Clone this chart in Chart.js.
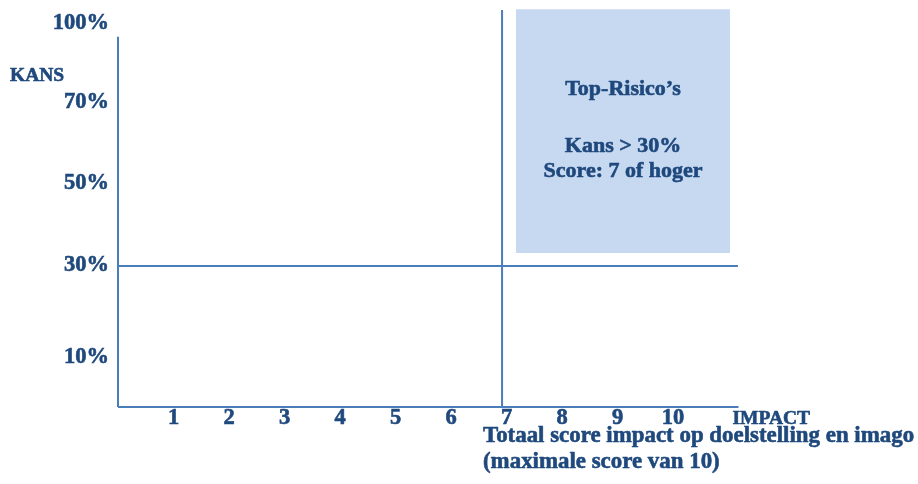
<!DOCTYPE html>
<html>
<head>
<meta charset="utf-8">
<script src="https://cdn.jsdelivr.net/npm/chart.js@4.4.1/dist/chart.umd.min.js"></script>
<style>
  html, body { margin: 0; padding: 0; background: #ffffff; }
  #wrap { width: 918px; height: 484px; position: relative; }
</style>
</head>
<body>
<div id="wrap"><canvas id="c" width="918" height="484"></canvas></div>
<script>
// ---- data ----
const xTickValues = [1, 2, 3, 4, 5, 6, 7, 8, 9, 10];
const xTickLabels = ['1', '2', '3', '4', '5', '6', '7', '8', '9', '10'];
const yTickLevels = [0.615, 1.755, 2.765, 3.765, 4.735];
const yTickLabels = ['10%', '30%', '50%', '70%', '100%'];
const axisXLine = [{x: 0, y: 0}, {x: 11.18, y: 0}];
const axisYLine = [{x: 0, y: 0}, {x: 0, y: 4.57}];
const kansThresholdLine = [{x: 0, y: 1.74}, {x: 11.17, y: 1.74}];
const impactThresholdLine = [{x: 6.92, y: 0}, {x: 6.92, y: 4.9}];
const boxXRange = [7.17, 11.03];
const boxYRange = [1.90, 4.91];
const boxTexts = ['Top-Risico\u2019s', 'Kans > 30%', 'Score: 7 of hoger'];
const yAxisTitle = 'KANS';
const xAxisTitle = 'IMPACT';
const xAxisSubtitle = ['Totaal score impact op doelstelling en imago', '(maximale score van 10)'];

// ---- styles ----
const TEXT = '#1F497D';
const LINE = '#4A7EBB';
const BOX = '#C6D9F1';
const FAMILY = '"Liberation Serif", "DejaVu Serif", serif';
const STROKE = 0.6;

const textPlugin = {
  id: 'texts',
  afterDraw(chart) {
    const ctx = chart.ctx;
    const xs = chart.scales.x, ys = chart.scales.y;
    ctx.save();
    ctx.fillStyle = TEXT;
    ctx.strokeStyle = TEXT;
    ctx.lineWidth = STROKE;
    ctx.lineJoin = 'round';
    ctx.textBaseline = 'alphabetic';
    const put = (t, x, y) => { ctx.fillText(t, x, y); ctx.strokeText(t, x, y); };
    // box texts
    const bx = (xs.getPixelForValue(boxXRange[0]) + xs.getPixelForValue(boxXRange[1])) / 2;
    const btop = ys.getPixelForValue(boxYRange[1]);
    ctx.textAlign = 'center';
    ctx.font = 'bold 22px ' + FAMILY;
    const offs = [86, 143, 168];
    boxTexts.forEach((t, i) => put(t, bx, btop + offs[i]));
    // KANS
    ctx.textAlign = 'left';
    ctx.font = 'bold 19.5px ' + FAMILY;
    put(yAxisTitle, 10, 81);
    // IMPACT
    put(xAxisTitle, xs.getPixelForValue(axisXLine[1].x) - 6, 424);
    // subtitle
    ctx.font = 'bold 22.9px ' + FAMILY;
    put(xAxisSubtitle[0], 483, 442);
    put(xAxisSubtitle[1], 483, 468);
    ctx.restore();
  }
};

const lineDs = (data) => ({
  data, borderColor: LINE, borderWidth: 2, pointRadius: 0, fill: false,
  tension: 0, clip: false
});

new Chart(document.getElementById('c'), {
  type: 'line',
  data: {
    datasets: [
      {
        data: [{x: boxXRange[0], y: boxYRange[1]}, {x: boxXRange[1], y: boxYRange[1]}],
        borderWidth: 0, borderColor: 'rgba(0,0,0,0)', pointRadius: 0,
        backgroundColor: BOX, fill: {value: boxYRange[0]}, clip: false
      },
      lineDs(axisXLine),
      lineDs(axisYLine),
      lineDs(kansThresholdLine),
      lineDs(impactThresholdLine)
    ]
  },
  options: {
    responsive: false,
    animation: false,
    events: [],
    layout: { padding: { left: 0, top: 2, right: 134, bottom: 0 } },
    plugins: { legend: { display: false }, tooltip: { enabled: false } },
    scales: {
      x: {
        type: 'linear', min: 0, max: 12,
        grid: { display: false, drawTicks: false }, border: { display: false },
        afterBuildTicks: (s) => { s.ticks = xTickValues.map(v => ({ value: v })); },
        afterFit: (s) => { s.height = 77; s.paddingLeft = 0; s.paddingRight = 0; },
        ticks: {
          autoSkip: false, maxRotation: 0, padding: 0,
          color: TEXT, textStrokeColor: TEXT, textStrokeWidth: STROKE,
          font: { family: FAMILY, size: 22.5, weight: 'bold', lineHeight: 1.0 },
          callback: (v, i) => xTickLabels[i]
        }
      },
      y: {
        type: 'linear', min: 0, max: 5,
        grid: { display: false, drawTicks: false }, border: { display: false },
        afterBuildTicks: (s) => { s.ticks = yTickLevels.map(v => ({ value: v })); },
        afterFit: (s) => { s.width = 118; s.paddingTop = 0; s.paddingBottom = 0; },
        ticks: {
          autoSkip: false, padding: 9,
          color: TEXT, textStrokeColor: TEXT, textStrokeWidth: STROKE,
          font: { family: FAMILY, size: 22.5, weight: 'bold' },
          callback: (v, i) => yTickLabels[i]
        }
      }
    }
  },
  plugins: [textPlugin]
});
</script>
</body>
</html>
